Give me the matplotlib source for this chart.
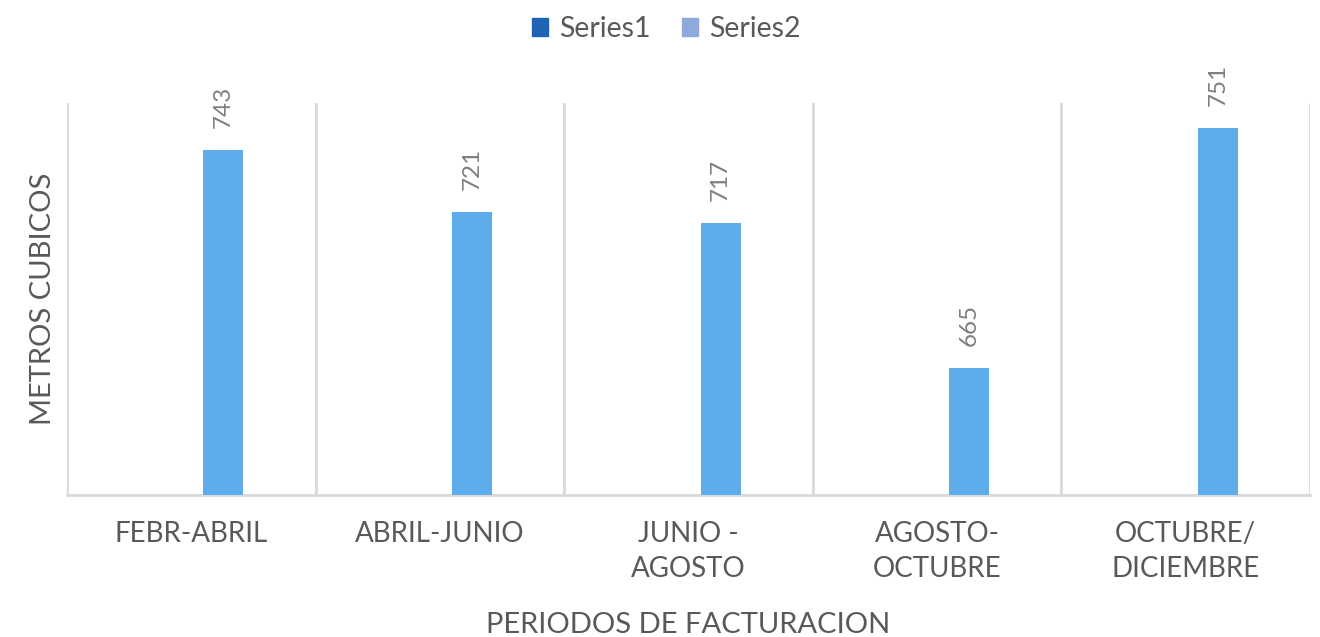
import matplotlib.pyplot as plt
import matplotlib.patches as mpatches
import numpy as np

# Data
periodos = ['FEBR-ABRIL', 'ABRIL-JUNIO', 'JUNIO -\nAGOSTO', 'AGOSTO-\nOCTUBRE', 'OCTUBRE/\nDICIEMBRE']
series1 = [np.nan, np.nan, np.nan, np.nan, np.nan]
series2 = [743, 721, 717, 665, 751]

plt.rcParams['font.family'] = ['Lato', 'DejaVu Sans']

fig = plt.figure(figsize=(13.2, 6.37), dpi=100)
ax = fig.add_axes([0.0508, 0.2229, 0.9417, 0.6154])

x = np.arange(len(periodos))
width = 0.161
offset = 0.129

ax.bar(x - offset, series1, width, color='#1F64B4')
bars = ax.bar(x + offset, series2, width, color='#5DADEC', zorder=3)

# Data labels
for b, v in zip(bars, series2):
    ax.annotate(str(v), (b.get_x() + b.get_width() / 2, v),
                xytext=(0, 16), textcoords='offset points',
                rotation=90, ha='center', va='bottom',
                fontsize=17.5, color='#7F7F7F')

ax.set_xlim(-0.5, len(periodos) - 0.5)
ax.set_ylim(619.5, 760)

# vertical grid lines between categories
for xv in np.arange(-0.5, len(periodos), 1.0):
    ax.axvline(xv, color='#D9D9D9', linewidth=2, zorder=1)

for s in ['top', 'right', 'left']:
    ax.spines[s].set_visible(False)
ax.spines['bottom'].set_color('#D9D9D9')
ax.spines['bottom'].set_linewidth(2)

ax.set_yticks([])
ax.set_xticks(x)
ax.set_xticklabels(periodos, fontsize=20, color='#595959', linespacing=1.4)
ax.tick_params(axis='x', length=0, pad=19)

ax.set_xlabel('PERIODOS DE FACTURACION', fontsize=21, color='#595959', va='baseline')
ax.xaxis.set_label_coords(0.5, -0.352)
ax.set_ylabel('METROS CUBICOS', fontsize=21, color='#595959', va='center')
ax.yaxis.set_label_coords(-0.0193, 0.5)

handles = [
    mpatches.Patch(color='#1F64B4', label='Series1'),
    mpatches.Patch(color='#8EA9DB', label='Series2'),
]
fig.legend(handles=handles, loc='center', bbox_to_anchor=(0.505, 0.955), ncol=2,
           frameon=False, fontsize=20.5, labelcolor='#595959',
           handlelength=0.55, handleheight=0.6, handletextpad=0.4, columnspacing=1.1)

fig.savefig('out.png', dpi=100)
